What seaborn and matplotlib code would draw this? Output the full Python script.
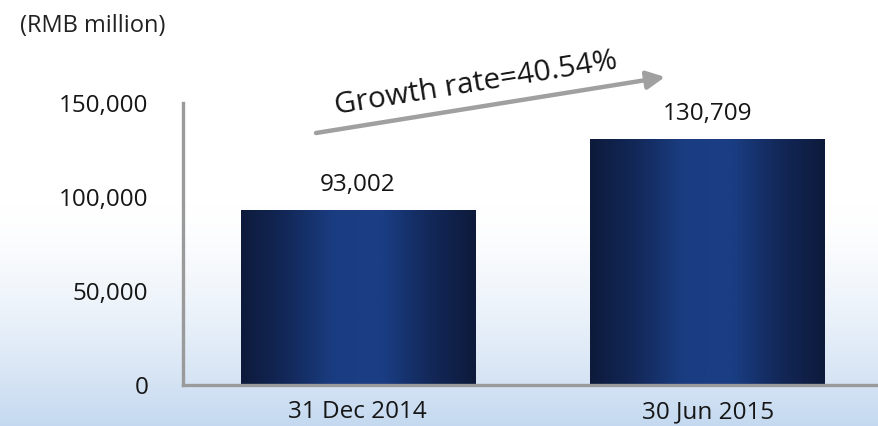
import numpy as np
import pandas as pd
import matplotlib
matplotlib.use("Agg")
import matplotlib.pyplot as plt
from matplotlib.colors import LinearSegmentedColormap
import seaborn as sns

# Data
dates = ["31 Dec 2014", "30 Jun 2015"]
values = [93002, 130709]
value_labels = ["93,002", "130,709"]
yticks = [0, 50000, 100000, 150000]
ytick_labels = ["0", "50,000", "100,000", "150,000"]
unit_label = "(RMB million)"
growth_label = "Growth rate=40.54%"

df = pd.DataFrame({"date": dates, "value": values})

sns.set_theme(style="white")
plt.rcParams["font.family"] = ["Open Sans", "DejaVu Sans"]

TXT = "#161616"
FS = 17.5

fig = plt.figure(figsize=(8.79, 4.26), dpi=100)

# Soft sky-blue haze along the bottom of the slide
bg = fig.add_axes([0, 0, 1, 1], zorder=0)
bg.axis("off")
h = 426
rows = np.arange(h)[::-1] / (h - 1)  # 1 at top, 0 at bottom
t = np.clip((0.52 - rows) / 0.52, 0, 1) ** 1.5
top_c = np.array([1.0, 1.0, 1.0])
bot_c = np.array([0.77, 0.85, 0.94])
grad = top_c[None, :] * (1 - t[:, None]) + bot_c[None, :] * t[:, None]
bg.imshow(grad[:, None, :].repeat(4, axis=1), aspect="auto", extent=[0, 1, 0, 1])
bg.set_xlim(0, 1)
bg.set_ylim(0, 1)

ax = fig.add_axes([183 / 879, 1 - 385 / 426, 1 - 183 / 879, (385 - 103) / 426], zorder=1)
ax.patch.set_alpha(0)

sns.barplot(data=df, x="date", y="value", ax=ax, width=0.671,
            color="#1a3c80", saturation=1, errorbar=None)

# Horizontal navy gradient inside each bar
bar_cmap = LinearSegmentedColormap.from_list(
    "navy", ["#0d1a3b", "#13295a", "#1a3d82", "#1a3e84", "#13295a", "#0d1a3b"])
shade = np.linspace(0, 1, 256)[None, :]
for patch in ax.patches:
    x0, y0 = patch.get_x(), patch.get_y()
    w, hgt = patch.get_width(), patch.get_height()
    patch.set_facecolor("none")
    patch.set_edgecolor("none")
    im = ax.imshow(shade, cmap=bar_cmap, aspect="auto",
                   extent=[x0, x0 + w, y0, y0 + hgt], zorder=2)
    im.set_clip_path(patch)
ax.set_xlim(-0.5, 1.49)
ax.set_ylim(0, 150000)

# Value labels above bars
for patch, lab in zip(ax.patches, value_labels):
    cx = patch.get_x() + patch.get_width() / 2
    ax.annotate(lab, xy=(cx, patch.get_height()), xytext=(0, 14),
                textcoords="offset points", ha="center", va="baseline",
                fontsize=FS, color=TXT)

ax.set_yticks(yticks)
ax.set_yticklabels(ytick_labels, fontsize=FS, color=TXT)
ax.tick_params(axis="x", labelsize=FS, labelcolor=TXT, length=0, pad=11)
ax.tick_params(axis="y", length=0, pad=25)
ax.set_xlabel("")
ax.set_ylabel("")

for side in ["top", "right"]:
    ax.spines[side].set_visible(False)
for side in ["left", "bottom"]:
    ax.spines[side].set_color("#9a9a9a")
    ax.spines[side].set_linewidth(2.4)

# Unit label
fig.text(20 / 879, 1 - 26 / 426, unit_label, ha="left", va="center",
         fontsize=17, color="#222222")

# Growth arrow with rotated caption
ax_arrow = fig.add_axes([0, 0, 1, 1], zorder=3)
ax_arrow.axis("off")
ax_arrow.set_xlim(0, 879)
ax_arrow.set_ylim(426, 0)
ax_arrow.annotate("", xy=(665, 77), xytext=(316, 133),
                  arrowprops=dict(arrowstyle="-|>,head_length=0.9,head_width=0.45",
                                  color="#a0a0a0", lw=3.2, shrinkA=0, shrinkB=0))
ax_arrow.text(476, 84, growth_label, rotation=9.2, rotation_mode="anchor",
              ha="center", va="center", fontsize=21.5, color=TXT)

fig.savefig("out.png", dpi=100)
